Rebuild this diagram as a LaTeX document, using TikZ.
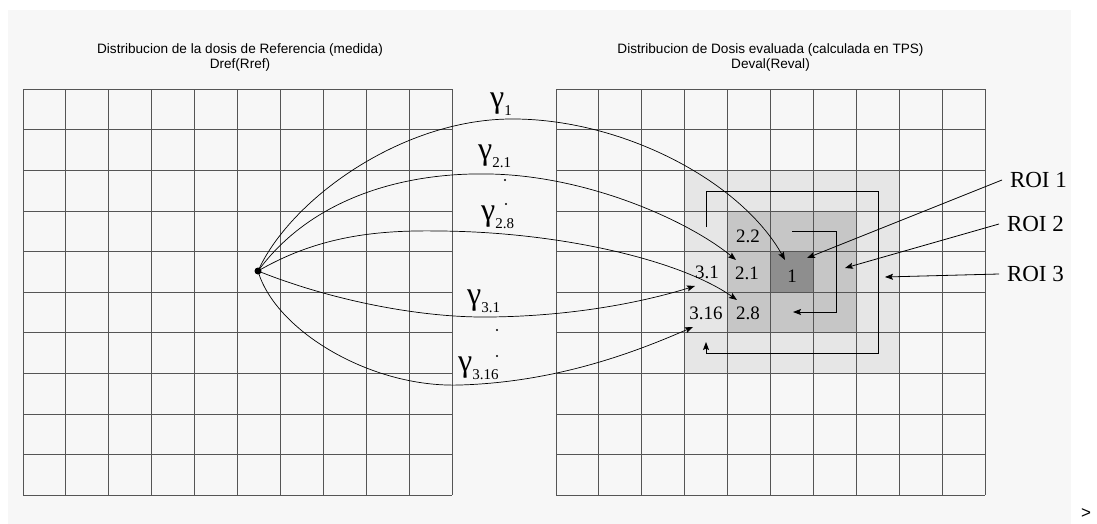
\documentclass[tikz,border=0pt]{standalone}
\usepackage{fontspec}
\setmainfont{Liberation Serif}
\setsansfont{Liberation Sans}
\usetikzlibrary{arrows.meta}

\definecolor{panel}{HTML}{F7F7F7}
\definecolor{roithree}{HTML}{E6E6E6}
\definecolor{roitwo}{HTML}{C6C6C6}
\definecolor{roione}{HTML}{8E8E8E}
\definecolor{gridgray}{HTML}{555555}

\tikzset{
  gridline/.style={gridgray, line width=1pt},
  gammaline/.style={black, line width=0.7pt, -{Stealth[length=8pt,width=6pt,inset=1.5pt]}},
  spiral/.style={black, line width=0.8pt, -{Stealth[length=8pt,width=6pt,inset=1.5pt]}},
  roiarrow/.style={black, line width=0.8pt, -{Stealth[length=8pt,width=6pt,inset=1.5pt]}},
  titletext/.style={font=\sffamily\fontsize{13.6}{15}\selectfont, align=center, inner sep=0pt},
  gamlabel/.style={anchor=base west, inner sep=0pt},
  cellnum/.style={font=\fontsize{19}{19}\selectfont, inner sep=0pt},
  roilabel/.style={font=\fontsize{23}{23}\selectfont, anchor=west, inner sep=0pt, outer sep=8pt},
}
\newcommand{\gam}[1]{{\fontsize{32}{32}\selectfont γ}\raisebox{-8pt}{\fontsize{15}{15}\selectfont #1}}

\begin{document}
\begin{tikzpicture}[x=1pt,y=-1pt]
\useasboundingbox (0,0) rectangle (1097,524);
\fill[panel] (8,10) rectangle (1071,524);

% ---- Reference grid ----
\begin{scope}[shift={(23,89.3)}]
    \foreach \i in {0,...,10} {
        \draw[gridline] (\i*42.9,0) -- (\i*42.9,406);
        \draw[gridline] (0,\i*40.6) -- (429,\i*40.6);
    }
\end{scope}
\node[titletext] (reftitle) at (240,57) {Distribucion de la dosis de Referencia (medida)\\Dref(Rref)};

% ---- Evaluated grid with the three ROIs ----
\begin{scope}[shift={(556,89.3)}]
    \fill[roithree] (3*42.9,2*40.6) rectangle (8*42.9,7*40.6);
    \fill[roitwo] (4*42.9,3*40.6) rectangle (7*42.9,6*40.6);
    \fill[roione] (5*42.9,4*40.6) rectangle (6*42.9,5*40.6);
    \foreach \i in {0,...,10} {
        \draw[gridline] (\i*42.9,0) -- (\i*42.9,406);
        \draw[gridline] (0,\i*40.6) -- (429,\i*40.6);
    }
\end{scope}
\node[titletext] (evaltitle) at (770.5,57) {Distribucion de Dosis evaluada (calculada en TPS)\\Deval(Reval)};

% cell numbers
\node[cellnum] (c22) at (748,236) {2.2};
\node[cellnum] (c21) at (747,273) {2.1};
\node[cellnum] (c28) at (748,313) {2.8};
\node[cellnum] (c1) at (792,276) {1};
\node[cellnum] (c31) at (707,272) {3.1};
\node[cellnum] (c316) at (706,313) {3.16};

% scan order inside ROI 3 and ROI 2
\coordinate (r3start) at (706,227);
\coordinate (r3end) at (706,342);
\draw[spiral] (r3start) -- (706,191) -- (878,191) -- (878,353) -- (706,353) -- (r3end);
\coordinate (r2start) at (792,231);
\coordinate (r2end) at (793,312);
\draw[spiral] (r2start) -- (836,231) -- (836,312) -- (r2end);

% ---- gamma paths from the reference point ----
\coordinate (src) at (258,271);
\coordinate (tip1) at (785,260);
\coordinate (tip21) at (736,260);
\coordinate (tip28) at (737,300);
\coordinate (tip31) at (695,286);
\coordinate (tip316) at (693,327);
\fill (src) circle (3.5);
\draw[gammaline] (src) .. controls (290,200) and (400,120) .. (510,119)
    .. controls (620,118) and (740,180) .. (tip1);
\draw[gammaline] (src) .. controls (310,200) and (400,172) .. (490,174)
    .. controls (590,176) and (690,222) .. (tip21);
\draw[gammaline] (src) .. controls (320,235) and (380,230) .. (440,231)
    .. controls (560,232) and (680,260) .. (tip28);
\draw[gammaline] (src) .. controls (330,300) and (420,318) .. (490,317)
    .. controls (580,316) and (650,300) .. (tip31);
\draw[gammaline] (src) .. controls (275,330) and (370,388) .. (460,385)
    .. controls (560,382) and (640,350) .. (tip316);

\node[gamlabel] (g1) at (490,108) {\gam{1}};
\node[gamlabel] (g21) at (478,160) {\gam{2.1}};
\node[gamlabel] (g28) at (481,220) {\gam{2.8}};
\node[gamlabel] (g31) at (467,304) {\gam{3.1}};
\node[gamlabel] (g316) at (458,371) {\gam{3.16}};
% vertical dots between the labels
\foreach \px/\py in {505/180, 506/204, 497/330, 497/356} {
    \fill (\px,\py) circle (1.1);
}

% ---- ROI labels ----
\node[roilabel] (roi1) at (1002,180) {ROI 1};
\node[roilabel] (roi2) at (999,224) {ROI 2};
\node[roilabel] (roi3) at (999,274) {ROI 3};
\coordinate (roi1tip) at (807,258);
\coordinate (roi2tip) at (845,268);
\coordinate (roi3tip) at (885,277);
\draw[roiarrow] (roi1.west) -- (roi1tip);
\draw[roiarrow] (roi2.west) -- (roi2tip);
\draw[roiarrow] (roi3.west) -- (roi3tip);

\node[font=\sffamily\fontsize{17}{17}\selectfont, inner sep=0pt] (mark) at (1086,514) {>};
\end{tikzpicture}
\end{document}
